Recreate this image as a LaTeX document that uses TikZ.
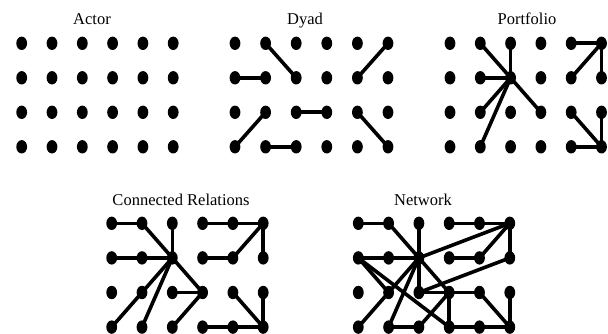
\documentclass[tikz,border=0pt]{standalone}
\usepackage{fontspec}
\setmainfont{Liberation Serif}
\usetikzlibrary{shapes.geometric}
\pgfdeclarelayer{bg}
\pgfsetlayers{bg,main}
\begin{document}
\begin{tikzpicture}[x=1pt,y=-1pt,
  dot/.style={ellipse,fill=black,draw=none,inner sep=0pt,minimum width=10.8pt,minimum height=13.4pt},
  edge/.style={line width=3.6pt},
  title/.style={font=\fontsize{16.5}{19}\selectfont,inner sep=0pt,anchor=base}]
\useasboundingbox (0,0) rectangle (608,334);
% dot grids
\foreach \p/\ox/\oy/\dx/\dy in {A/21.7/43.3/30.3/34.5, D/235/43.3/30.6/34.5, P/450/43.3/30.3/34.5, C/111.7/223.3/30.3/34.6, N/358.3/223.3/30.3/34.6}{
  \foreach \c in {1,...,6}{
    \foreach \r in {1,...,4}{
      \node[dot] (\p-\c-\r) at ({\ox+(\c-1)*\dx},{\oy+(\r-1)*\dy}) {};
    }
  }
}
% titles
\node[title] (tA) at (92,25) {Actor};
\node[title] (tD) at (305,25) {Dyad};
\node[title] (tP) at (527,25) {Portfolio};
\node[title] (tC) at (181,205) {Connected Relations};
\node[title] (tN) at (423,205) {Network};
\begin{pgfonlayer}{bg}
% Dyad
\foreach \a/\b in {1-2/2-2, 2-1/3-2, 6-1/5-2, 2-3/1-4, 3-3/4-3, 2-4/3-4, 5-3/6-4}
  \draw[edge] (D-\a.center) -- (D-\b.center);
% Portfolio
\foreach \a/\b in {2-1/3-2, 3-1/3-2, 2-2/3-2, 2-3/3-2, 2-4/3-2, 4-3/3-2, 5-1/6-1, 6-1/6-2, 6-1/5-2, 5-3/6-4, 6-3/6-4, 5-4/6-4}
  \draw[edge] (P-\a.center) -- (P-\b.center);
% Connected Relations
\foreach \a/\b in {1-1/2-1, 2-1/3-2, 3-1/3-2, 1-2/2-2, 2-2/3-2, 3-2/2-3, 2-3/1-4, 3-2/2-4, 3-2/4-3, 3-3/4-3, 4-3/3-4, 4-1/5-1, 5-1/6-1, 6-1/6-2, 6-1/5-2, 4-2/5-2, 5-3/6-4, 6-3/6-4, 4-4/5-4, 5-4/6-4}
  \draw[edge] (C-\a.center) -- (C-\b.center);
% Network
\foreach \a/\b in {1-1/2-1, 2-1/3-2, 3-1/3-2, 3-2/3-3, 1-2/2-2, 2-2/3-2, 3-2/2-3, 2-3/1-4, 3-2/2-4, 3-2/4-3, 3-3/4-3, 4-3/3-4, 1-2/2-3, 1-2/4-4, 2-4/3-4, 3-2/6-1, 3-3/6-2, 4-1/5-1, 5-1/6-1, 6-1/6-2, 6-1/5-2, 4-2/5-2, 4-3/5-3, 5-3/6-4, 6-3/6-4, 4-3/4-4, 4-4/5-4, 5-4/6-4}
  \draw[edge] (N-\a.center) -- (N-\b.center);
\end{pgfonlayer}
\end{tikzpicture}
\end{document}
